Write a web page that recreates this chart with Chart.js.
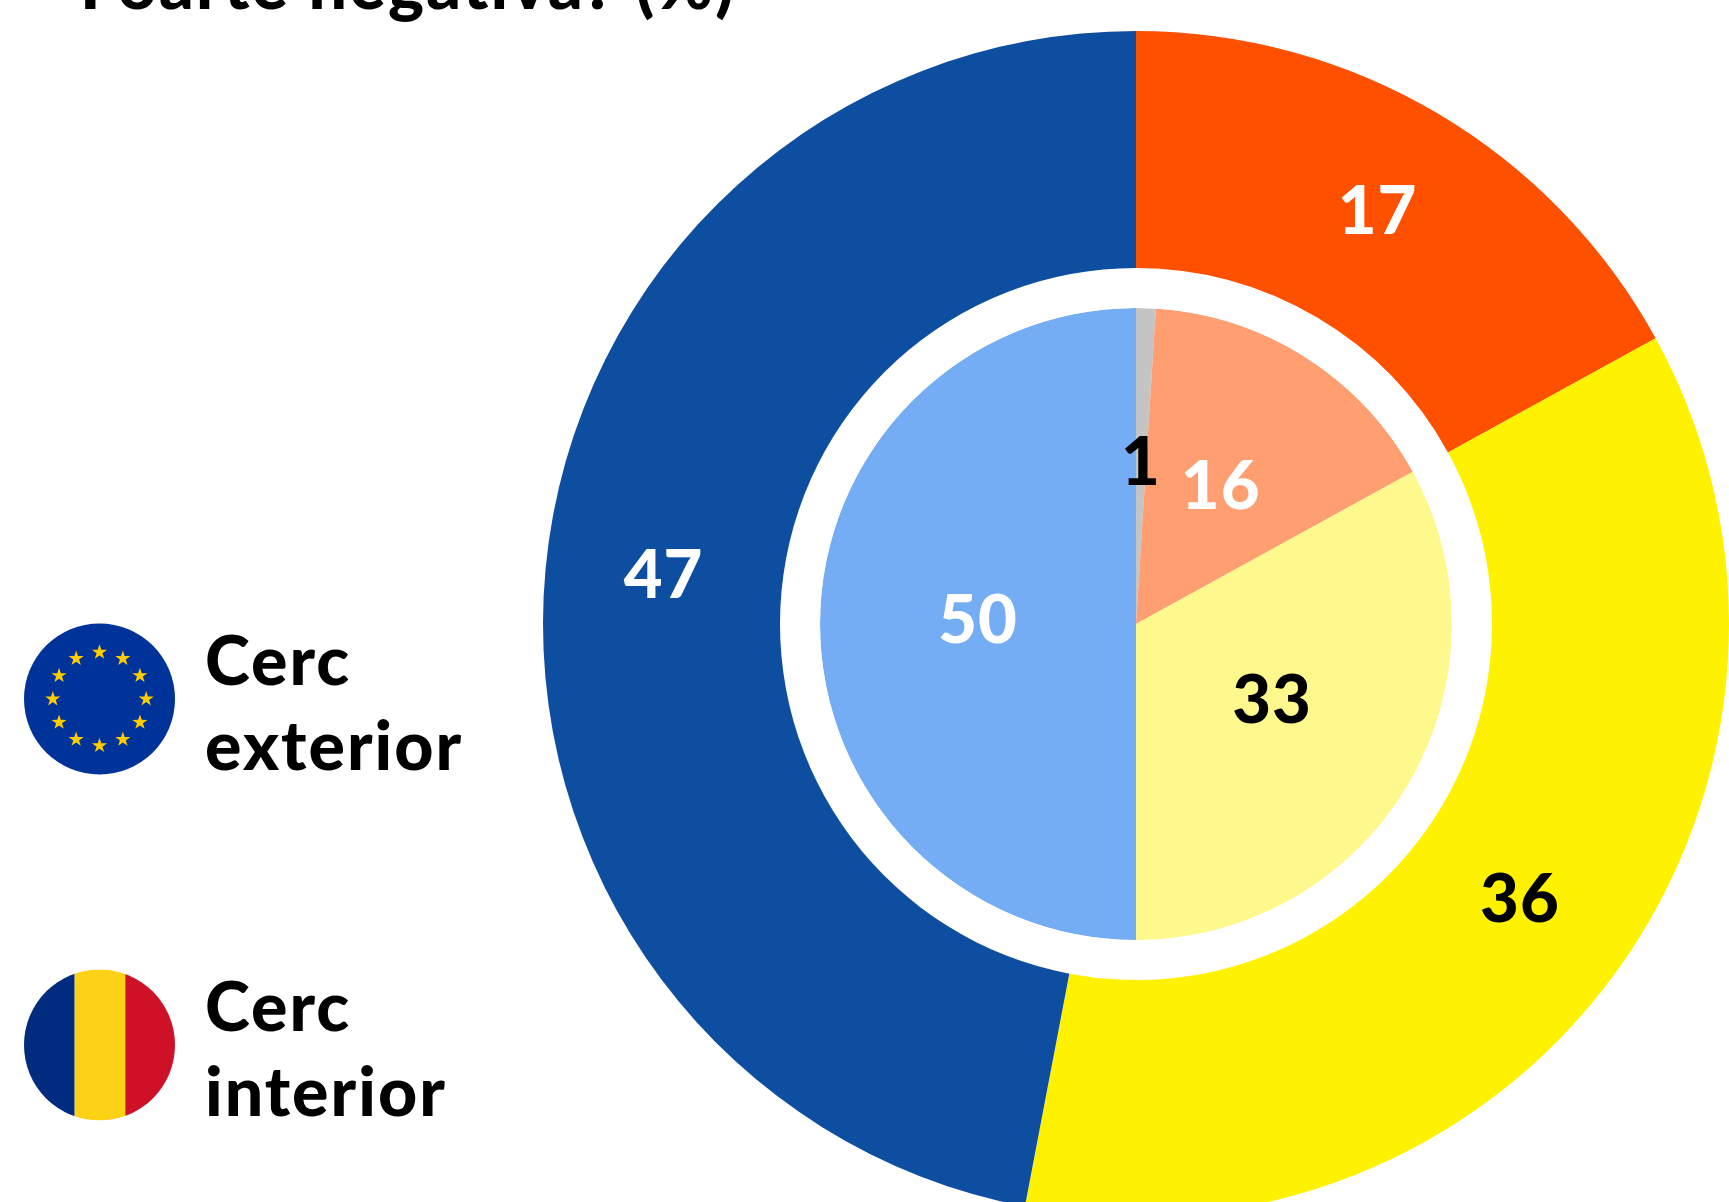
<!DOCTYPE html>
<html lang="ro">
<head>
<meta charset="utf-8">
<title>Cerc exterior / interior</title>
<script src="https://cdn.jsdelivr.net/npm/chart.js@4"></script>
<style>
  html, body { margin: 0; padding: 0; background: #fff; width: 1729px; height: 1202px; overflow: hidden; }
  #wrap { position: relative; width: 1729px; height: 1202px; overflow: hidden; font-family: Lato, sans-serif; color: #000; }
  #pie { position: absolute; left: 0; top: 0; }
  .title { position: absolute; left: 80px; top: -57px; font-size: 68px; line-height: 80px; font-weight: 900; letter-spacing: 2.2px; white-space: nowrap; }
  .key { position: absolute; left: 205px; font-size: 68px; line-height: 85px; font-weight: 900; letter-spacing: 2px; }
  .flag { position: absolute; left: 24px; width: 151px; height: 152px; }
</style>
</head>
<body>
<div id="wrap">
  <canvas id="pie" width="1729" height="1217"></canvas>
  <div class="title">Foarte negativă? (%)</div>

  <svg class="flag" id="flagEu" style="top:623px" viewBox="-76 -76 152 152"></svg>
  <div class="key" style="top:616px">Cerc<br>exterior</div>

  <svg class="flag" style="top:969px" viewBox="-76 -76 152 152">
    <defs><clipPath id="roClip"><circle r="76"></circle></clipPath></defs>
    <g clip-path="url(#roClip)">
      <rect x="-76" y="-76" width="51" height="152" fill="#002B7F"></rect>
      <rect x="-25" y="-76" width="51" height="152" fill="#FCD116"></rect>
      <rect x="26" y="-76" width="50" height="152" fill="#CE1126"></rect>
    </g>
  </svg>
  <div class="key" style="top:962px">Cerc<br>interior</div>
</div>

<script>
// values
const outerValues = [17, 36, 47];
const innerValues = [1, 16, 33, 50];

const outerColors = ['#FF5000', '#FFF200', '#0D4EA0'];
const innerColors = ['#C4C4C4', '#FF9E70', '#FFF98D', '#75ADF5'];
const outerLabelColors = ['#fff', '#000', '#fff'];
const innerLabelColors = ['#000', '#fff', '#000', '#fff'];

// EU flag stars
const flagEu = document.getElementById('flagEu');
let euHtml = '<circle r="76" fill="#003399"></circle>';
for (let i = 0; i < 12; i++) {
  const a = i * Math.PI / 6;
  const cx = 47 * Math.sin(a);
  const cy = -47 * Math.cos(a);
  const pts = [];
  for (let k = 0; k < 10; k++) {
    const r = k % 2 ? 3.1 : 8;
    const b = k * Math.PI / 5;
    pts.push((cx + r * Math.sin(b)).toFixed(2) + ',' + (cy - r * Math.cos(b)).toFixed(2));
  }
  euHtml += '<polygon fill="#FFCC00" points="' + pts.join(' ') + '"></polygon>';
}
flagEu.innerHTML = euHtml;

// numbers in the middle of each slice
const sliceLabels = {
  id: 'sliceLabels',
  afterDatasetsDraw(chart) {
    const ctx = chart.ctx;
    ctx.save();
    ctx.font = '900 67px Lato, sans-serif';
    ctx.letterSpacing = '1px';
    ctx.textAlign = 'center';
    ctx.textBaseline = 'middle';
    chart.data.datasets.forEach((ds, i) => {
      if (!ds.labelColors) return;
      chart.getDatasetMeta(i).data.forEach((arc, j) => {
        const p = arc.getCenterPoint();
        ctx.fillStyle = ds.labelColors[j];
        ctx.fillText(ds.data[j], p.x, p.y - 3);
      });
    });
    ctx.restore();
  }
};

new Chart(document.getElementById('pie'), {
  type: 'pie',
  data: {
    datasets: [
      { data: outerValues, backgroundColor: outerColors, labelColors: outerLabelColors, weight: 237, borderWidth: 0 },
      // white gap between the two rings
      { data: [1], backgroundColor: ['#ffffff'], weight: 40, borderWidth: 0 },
      { data: innerValues, backgroundColor: innerColors, labelColors: innerLabelColors, weight: 316, borderWidth: 0 }
    ]
  },
  options: {
    responsive: false,
    animation: false,
    layout: { padding: { left: 543, top: 31, right: 0, bottom: 0 } },
    plugins: { legend: { display: false }, tooltip: { enabled: false } }
  },
  plugins: [sliceLabels]
});
</script>
</body>
</html>
